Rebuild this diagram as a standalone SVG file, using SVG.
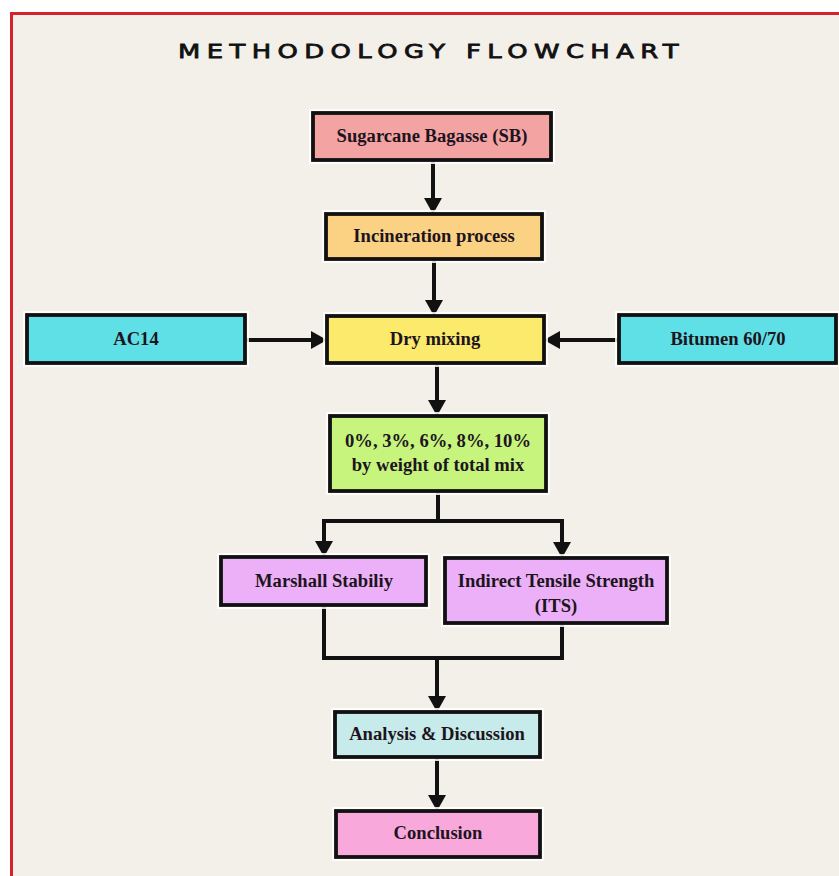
<svg xmlns="http://www.w3.org/2000/svg" width="839" height="876" viewBox="0 0 839 876">
<style>
.box{stroke:#111;stroke-width:3.8}
.halo{fill:none;stroke:#fff;stroke-width:8;stroke-opacity:0.85}
.lbl{font-family:"Liberation Serif","Times New Roman",serif;font-weight:bold;font-size:18.6px;fill:#1d1420;text-anchor:middle}
.con{fill:none;stroke:#111;stroke-width:4;stroke-linejoin:miter}
.title{font-family:"DejaVu Sans","Liberation Sans",sans-serif;font-size:20px;fill:#111;stroke:#111;stroke-width:0.8;letter-spacing:5px}
</style>
<defs>
<marker id="ah" viewBox="0 0 16 18" refX="6" refY="9" markerWidth="16" markerHeight="18" markerUnits="userSpaceOnUse" orient="auto-start-reverse">
<path d="M0,0 L16,9 L0,18 Z" fill="#111"/>
</marker>
</defs>
<rect x="0" y="0" width="839" height="876" fill="#ffffff"/>
<rect x="11" y="13" width="840" height="880" fill="#f3efe9"/>
<path d="M11.5,876 V13.5 H839" fill="none" stroke="#d4232c" stroke-width="3"/>
<text class="title" x="178" y="58" textLength="507" lengthAdjust="spacingAndGlyphs">METHODOLOGY FLOWCHART</text>

<g id="connectors">
<path class="con" d="M433,160 V204" marker-end="url(#ah)"/>
<path class="con" d="M434,259 V306" marker-end="url(#ah)"/>
<path class="con" d="M245,340 H317" marker-end="url(#ah)"/>
<path class="con" d="M619,340 H554" marker-end="url(#ah)"/>
<path class="con" d="M437,363 V406" marker-end="url(#ah)"/>
<path class="con" d="M438,491 V521"/>
<path class="con" d="M324,547 V521 H562 V548" marker-start="url(#ah)" marker-end="url(#ah)"/>
<path class="con" d="M324,605 V658 H562 V623"/>
<path class="con" d="M437,658 V702" marker-end="url(#ah)"/>
<path class="con" d="M437,757 V801" marker-end="url(#ah)"/>
</g>

<g id="sb">
<rect class="halo" x="313" y="113" width="238" height="47"/>
<rect class="box" x="313" y="113" width="238" height="47" fill="#f4a3a3"/>
<text class="lbl" x="432" y="142">Sugarcane Bagasse (SB)</text>
</g>
<g id="incineration">
<rect class="halo" x="326" y="214" width="216" height="45"/>
<rect class="box" x="326" y="214" width="216" height="45" fill="#fbd283"/>
<text class="lbl" x="434" y="242">Incineration process</text>
</g>
<g id="ac14">
<rect class="halo" x="27" y="315" width="218" height="48"/>
<rect class="box" x="27" y="315" width="218" height="48" fill="#5ee0e6"/>
<text class="lbl" x="136" y="345">AC14</text>
</g>
<g id="drymixing">
<rect class="halo" x="327" y="316" width="217" height="47"/>
<rect class="box" x="327" y="316" width="217" height="47" fill="#fbea6b"/>
<text class="lbl" x="435" y="345">Dry mixing</text>
</g>
<g id="bitumen">
<rect class="halo" x="619" y="315" width="217" height="48"/>
<rect class="box" x="619" y="315" width="217" height="48" fill="#5ee0e6"/>
<text class="lbl" x="728" y="345">Bitumen 60/70</text>
</g>
<g id="percent">
<rect class="halo" x="330" y="416" width="216" height="75"/>
<rect class="box" x="330" y="416" width="216" height="75" fill="#c6f47c"/>
<text class="lbl" x="438" y="447">0%, 3%, 6%, 8%, 10%</text>
<text class="lbl" x="438" y="471">by weight of total mix</text>
</g>
<g id="marshall">
<rect class="halo" x="221" y="557" width="205" height="48"/>
<rect class="box" x="221" y="557" width="205" height="48" fill="#ebb0f7"/>
<text class="lbl" x="324" y="587">Marshall Stabiliy</text>
</g>
<g id="its">
<rect class="halo" x="445" y="558" width="222" height="65"/>
<rect class="box" x="445" y="558" width="222" height="65" fill="#ebb0f7"/>
<text class="lbl" x="556" y="587">Indirect Tensile Strength</text>
<text class="lbl" x="556" y="612">(ITS)</text>
</g>
<g id="analysis">
<rect class="halo" x="335" y="712" width="205" height="45"/>
<rect class="box" x="335" y="712" width="205" height="45" fill="#c6ebea"/>
<text class="lbl" x="437" y="740">Analysis &amp; Discussion</text>
</g>
<g id="conclusion">
<rect class="halo" x="336" y="811" width="204" height="46"/>
<rect class="box" x="336" y="811" width="204" height="46" fill="#f9a8dc"/>
<text class="lbl" x="438" y="839">Conclusion</text>
</g>
</svg>
